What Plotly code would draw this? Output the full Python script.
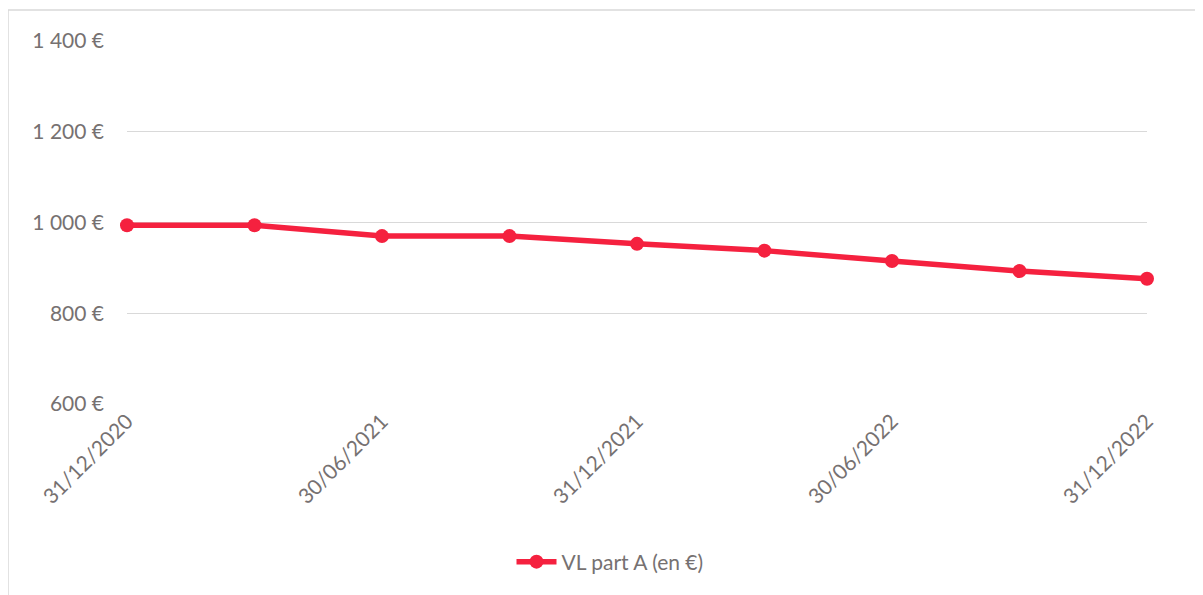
import plotly.graph_objects as go

dates = ["31/12/2020", "31/03/2021", "30/06/2021", "30/09/2021", "31/12/2021",
         "31/03/2022", "30/06/2022", "30/09/2022", "31/12/2022"]
values = [994, 994, 970, 970, 953, 938, 915, 893, 876]
tick_labels = ["31/12/2020", "30/06/2021", "31/12/2021", "30/06/2022", "31/12/2022"]
y_ticks = [600, 800, 1000, 1200, 1400]
series_name = "VL part A (en €)"

RED = "#F5213F"
GREY_TXT = "#767171"
FONT = "Lato, 'Open Sans', sans-serif"
FS = 21

def fmt_eur(v):
    return f"{v:,}".replace(",", " ") + " €"

fig = go.Figure()
fig.add_trace(go.Scatter(
    x=dates, y=values, name=series_name, mode="lines+markers",
    line=dict(color=RED, width=5.5),
    marker=dict(color=RED, size=14),
    cliponaxis=False,
))

OFF = 8  # default page body margin
W, H = 1203 - OFF, 595 - OFF
L, R, T, B = 127 - OFF, 56, 41 - OFF, 191
pw, ph = W - L - R, H - T - B

def px_x(x):
    return (x - OFF - L) / pw

def px_y(y):
    return (H - B - (y - OFF)) / ph

fig.update_layout(
    width=W, height=H,
    margin=dict(l=L, r=R, t=T, b=B, autoexpand=False),
    paper_bgcolor="white", plot_bgcolor="white",
    font=dict(family=FONT, color=GREY_TXT, size=FS),
    showlegend=True,
    legend=dict(orientation="h", x=px_x(610), xanchor="center", y=px_y(562), yanchor="middle",
                font=dict(size=FS, color=GREY_TXT), itemwidth=40),
    xaxis=dict(
        type="category", range=[0, 8],
        tickvals=tick_labels, ticktext=tick_labels,
        tickangle=-45, showgrid=False, showline=False, zeroline=False,
        ticks="", tickfont=dict(size=FS, color=GREY_TXT),
    ),
    yaxis=dict(
        range=[600, 1400], tickvals=y_ticks, ticktext=[fmt_eur(v) for v in y_ticks],
        showgrid=True, gridcolor="#D9D9D9", gridwidth=1,
        showline=False, zeroline=False, ticks="",
        ticklabelstandoff=22, tickfont=dict(size=FS, color=GREY_TXT),
    ),
    shapes=[dict(type="rect", xref="paper", yref="paper",
                 x0=px_x(8), x1=px_x(1200), y0=px_y(640), y1=px_y(10),
                 line=dict(color="#D9D9D9", width=1.5), layer="below")],
)

fig.write_html("out.html")
